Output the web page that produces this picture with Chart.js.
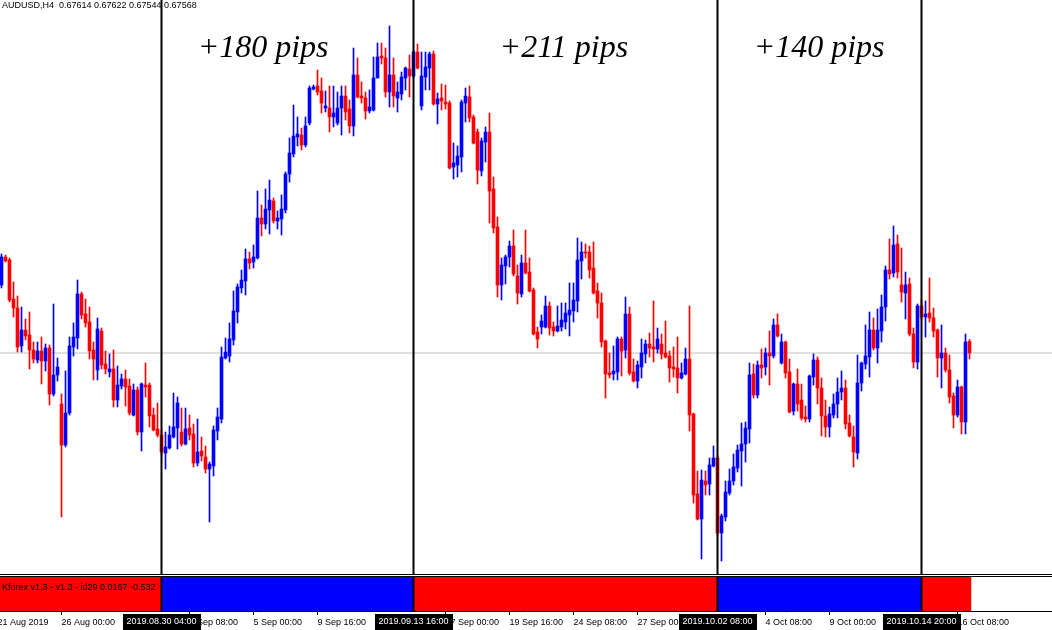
<!DOCTYPE html>
<html><head><meta charset="utf-8">
<script src="https://cdn.jsdelivr.net/npm/chart.js@4.4.1/dist/chart.umd.min.js"></script>
<style>
html,body{margin:0;padding:0;background:#fff;}
#wrap{position:relative;width:1052px;height:630px;overflow:hidden;background:#fff;}
#main{position:absolute;left:0;top:0;}
#ind{position:absolute;left:0;top:577px;}
.hl{position:absolute;left:0;width:1052px;height:1px;background:#000;}
</style></head><body>
<div id="wrap">
<canvas id="main" width="1052" height="574"></canvas>
<div class="hl" style="top:574px"></div>
<div class="hl" style="top:576px"></div>
<canvas id="ind" width="1052" height="53"></canvas>
</div>
<script>
const symbol = 'AUDUSD,H4';
const firstBar = -40; // bar index of first candle (0 = 2019.08.30 04:00)
const open = [
0.67840,0.67952,0.67940,0.67784,0.67748,0.67596,0.67660,0.67640,0.67580,0.67540,
0.67576,0.67536,0.67588,0.67404,0.67480,0.67364,0.67200,0.67328,0.67592,0.67628,
0.67804,0.67724,0.67692,0.67580,0.67500,0.67656,0.67524,0.67492,0.67504,0.67380,
0.67436,0.67464,0.67436,0.67320,0.67420,0.67252,0.67440,0.67440,0.67320,0.67264,
0.67240,0.67168,0.67188,0.67232,0.67268,0.67252,0.67204,0.67268,0.67244,0.67128,
0.67176,0.67152,0.67104,0.67116,0.67256,0.67304,0.67548,0.67556,0.67620,0.67732,
0.67828,0.67856,0.67944,0.67932,0.67948,0.68108,0.68084,0.68140,0.68176,0.68096,
0.68104,0.68140,0.68284,0.68364,0.68432,0.68440,0.68400,0.68488,0.68624,0.68636,
0.68616,0.68548,0.68548,0.68512,0.68488,0.68548,0.68596,0.68544,0.68476,0.68680,
0.68596,0.68588,0.68536,0.68540,0.68668,0.68756,0.68748,0.68612,0.68680,0.68588,
0.68604,0.68668,0.68704,0.68676,0.68772,0.68556,0.68672,0.68708,0.68764,0.68564,
0.68588,0.68572,0.68568,0.68312,0.68320,0.68352,0.68568,0.68592,0.68512,0.68452,
0.68296,0.68412,0.68452,0.68224,0.68072,0.67840,0.67916,0.67952,0.67996,0.67876,
0.67804,0.67928,0.67892,0.67820,0.67652,0.67672,0.67672,0.67756,0.67672,0.67656,
0.67672,0.67692,0.67720,0.67736,0.67776,0.67936,0.67972,0.67972,0.67908,0.67816,
0.67768,0.67616,0.67488,0.67484,0.67492,0.67624,0.67580,0.67724,0.67492,0.67456,
0.67512,0.67564,0.67604,0.67592,0.67584,0.67604,0.67568,0.67556,0.67512,0.67508,
0.67468,0.67484,0.67544,0.67324,0.67004,0.66904,0.67056,0.67044,0.67116,0.67148,
0.66848,0.66912,0.67008,0.67056,0.67108,0.67176,0.67204,0.67264,0.67484,0.67400,
0.67520,0.67512,0.67568,0.67556,0.67680,0.67528,0.67612,0.67492,0.67336,0.67444,
0.67380,0.67312,0.67304,0.67472,0.67540,0.67428,0.67316,0.67272,0.67320,0.67364,
0.67412,0.67428,0.67288,0.67232,0.67168,0.67448,0.67524,0.67552,0.67660,0.67588,
0.67656,0.67752,0.67900,0.67888,0.68004,0.67840,0.67808,0.67844,0.67644,0.67532,
0.67756,0.67712,0.67728,0.67708,0.67660,0.67548,0.67568,0.67500,0.67396,0.67320,
0.67432,0.67292,0.67614];
const high = [
0.67964,0.67960,0.67948,0.67852,0.67796,0.67752,0.67704,0.67732,0.67612,0.67612,
0.67632,0.67604,0.67600,0.67764,0.67548,0.67404,0.67496,0.67632,0.67688,0.67860,
0.67812,0.67784,0.67752,0.67612,0.67708,0.67668,0.67576,0.67564,0.67580,0.67516,
0.67484,0.67500,0.67464,0.67444,0.67432,0.67448,0.67528,0.67448,0.67348,0.67368,
0.67260,0.67252,0.67276,0.67408,0.67392,0.67348,0.67348,0.67320,0.67284,0.67304,
0.67232,0.67196,0.67132,0.67276,0.67348,0.67592,0.67628,0.67688,0.67816,0.67844,
0.67900,0.67984,0.67972,0.68000,0.68216,0.68160,0.68224,0.68260,0.68188,0.68136,
0.68200,0.68292,0.68428,0.68560,0.68512,0.68468,0.68512,0.68636,0.68640,0.68700,
0.68668,0.68616,0.68636,0.68636,0.68612,0.68636,0.68636,0.68580,0.68788,0.68748,
0.68652,0.68612,0.68620,0.68752,0.68808,0.68808,0.68788,0.68876,0.68748,0.68652,
0.68692,0.68712,0.68760,0.68780,0.68804,0.68772,0.68772,0.68772,0.68776,0.68608,
0.68644,0.68640,0.68576,0.68408,0.68396,0.68580,0.68628,0.68636,0.68520,0.68464,
0.68428,0.68472,0.68528,0.68272,0.68112,0.67948,0.67960,0.68016,0.68060,0.67920,
0.67960,0.68060,0.67948,0.67828,0.67672,0.67720,0.67796,0.67772,0.67692,0.67756,
0.67768,0.67768,0.67848,0.67848,0.68028,0.68012,0.68004,0.67996,0.68012,0.67848,
0.67808,0.67620,0.67568,0.67596,0.67632,0.67632,0.67792,0.67752,0.67544,0.67536,
0.67624,0.67620,0.67648,0.67776,0.67668,0.67644,0.67696,0.67576,0.67592,0.67632,
0.67528,0.67588,0.67756,0.67328,0.67096,0.67100,0.67096,0.67148,0.67196,0.67160,
0.66924,0.67056,0.67104,0.67164,0.67200,0.67288,0.67292,0.67528,0.67524,0.67536,
0.67584,0.67588,0.67656,0.67704,0.67724,0.67644,0.67616,0.67544,0.67448,0.67504,
0.67444,0.67356,0.67480,0.67564,0.67552,0.67468,0.67380,0.67352,0.67404,0.67468,
0.67496,0.67460,0.67320,0.67276,0.67560,0.67532,0.67680,0.67732,0.67708,0.67744,
0.67800,0.67916,0.68024,0.68076,0.68040,0.67988,0.67892,0.67868,0.67668,0.67764,
0.67780,0.67776,0.67868,0.67748,0.67664,0.67680,0.67588,0.67560,0.67408,0.67460,
0.67436,0.67644,0.67622];
const low = [
0.67828,0.67932,0.67772,0.67712,0.67572,0.67572,0.67620,0.67504,0.67528,0.67528,
0.67444,0.67496,0.67360,0.67396,0.67456,0.66912,0.67192,0.67320,0.67556,0.67584,
0.67704,0.67672,0.67544,0.67460,0.67460,0.67504,0.67484,0.67472,0.67352,0.67352,
0.67424,0.67356,0.67320,0.67316,0.67240,0.67176,0.67392,0.67272,0.67256,0.67232,
0.67160,0.67104,0.67184,0.67228,0.67184,0.67196,0.67200,0.67220,0.67112,0.67116,
0.67136,0.67088,0.66892,0.67076,0.67220,0.67288,0.67544,0.67532,0.67600,0.67688,
0.67808,0.67800,0.67904,0.67908,0.67944,0.68036,0.68064,0.68044,0.68088,0.68064,
0.68040,0.68128,0.68252,0.68352,0.68396,0.68380,0.68392,0.68480,0.68620,0.68600,
0.68528,0.68532,0.68452,0.68472,0.68480,0.68440,0.68500,0.68448,0.68436,0.68588,
0.68568,0.68504,0.68528,0.68536,0.68668,0.68724,0.68592,0.68552,0.68552,0.68532,
0.68580,0.68620,0.68592,0.68668,0.68704,0.68540,0.68620,0.68620,0.68560,0.68484,
0.68540,0.68544,0.68304,0.68264,0.68272,0.68292,0.68492,0.68492,0.68404,0.68244,
0.68276,0.68332,0.68088,0.68048,0.67792,0.67780,0.67844,0.67912,0.67876,0.67764,
0.67792,0.67884,0.67812,0.67640,0.67588,0.67644,0.67668,0.67640,0.67636,0.67652,
0.67656,0.67664,0.67636,0.67692,0.67732,0.67864,0.67948,0.67868,0.67804,0.67708,
0.67592,0.67388,0.67468,0.67460,0.67460,0.67476,0.67548,0.67480,0.67452,0.67428,
0.67468,0.67528,0.67552,0.67532,0.67568,0.67544,0.67548,0.67452,0.67472,0.67408,
0.67464,0.67480,0.67256,0.66968,0.66900,0.66744,0.67000,0.67000,0.67112,0.66840,
0.66736,0.66896,0.67000,0.67040,0.67092,0.67036,0.67132,0.67208,0.67388,0.67388,
0.67468,0.67480,0.67440,0.67548,0.67632,0.67524,0.67468,0.67328,0.67320,0.67336,
0.67300,0.67292,0.67292,0.67440,0.67364,0.67236,0.67232,0.67232,0.67308,0.67308,
0.67380,0.67264,0.67232,0.67112,0.67144,0.67416,0.67504,0.67472,0.67580,0.67528,
0.67612,0.67696,0.67864,0.67872,0.67868,0.67772,0.67704,0.67636,0.67508,0.67504,
0.67700,0.67632,0.67692,0.67632,0.67472,0.67428,0.67492,0.67368,0.67268,0.67312,
0.67244,0.67244,0.67544];
const close = [
0.67952,0.67936,0.67780,0.67748,0.67592,0.67660,0.67636,0.67580,0.67544,0.67576,
0.67536,0.67588,0.67404,0.67480,0.67512,0.67200,0.67328,0.67596,0.67632,0.67804,
0.67720,0.67688,0.67576,0.67544,0.67664,0.67520,0.67504,0.67504,0.67380,0.67440,
0.67464,0.67432,0.67328,0.67420,0.67252,0.67444,0.67432,0.67316,0.67260,0.67240,
0.67172,0.67192,0.67240,0.67272,0.67368,0.67204,0.67264,0.67240,0.67128,0.67172,
0.67156,0.67104,0.67124,0.67260,0.67312,0.67552,0.67572,0.67624,0.67736,0.67832,
0.67860,0.67944,0.67928,0.67952,0.68108,0.68084,0.68144,0.68180,0.68096,0.68108,
0.68144,0.68284,0.68368,0.68436,0.68444,0.68400,0.68476,0.68628,0.68632,0.68612,
0.68568,0.68556,0.68512,0.68528,0.68548,0.68596,0.68532,0.68476,0.68680,0.68592,
0.68588,0.68536,0.68552,0.68668,0.68752,0.68748,0.68612,0.68680,0.68596,0.68612,
0.68672,0.68708,0.68676,0.68772,0.68708,0.68676,0.68712,0.68764,0.68564,0.68584,
0.68576,0.68564,0.68308,0.68328,0.68356,0.68572,0.68596,0.68508,0.68408,0.68300,
0.68416,0.68452,0.68216,0.68068,0.67840,0.67920,0.67952,0.67996,0.67884,0.67808,
0.67928,0.67888,0.67816,0.67644,0.67624,0.67696,0.67756,0.67668,0.67656,0.67676,
0.67700,0.67728,0.67740,0.67780,0.67940,0.67972,0.67968,0.67900,0.67808,0.67768,
0.67612,0.67484,0.67480,0.67496,0.67624,0.67576,0.67724,0.67488,0.67456,0.67520,
0.67568,0.67604,0.67588,0.67584,0.67624,0.67564,0.67552,0.67508,0.67504,0.67468,
0.67488,0.67544,0.67320,0.67000,0.66904,0.67060,0.67040,0.67120,0.67148,0.66848,
0.66916,0.67012,0.67056,0.67112,0.67180,0.67204,0.67268,0.67480,0.67400,0.67520,
0.67508,0.67568,0.67556,0.67680,0.67636,0.67612,0.67488,0.67332,0.67444,0.67364,
0.67308,0.67304,0.67476,0.67540,0.67428,0.67316,0.67272,0.67324,0.67364,0.67412,
0.67428,0.67284,0.67236,0.67172,0.67448,0.67528,0.67556,0.67660,0.67588,0.67660,
0.67752,0.67900,0.67884,0.68000,0.67892,0.67812,0.67840,0.67644,0.67532,0.67756,
0.67712,0.67724,0.67708,0.67656,0.67548,0.67568,0.67500,0.67392,0.67320,0.67432,
0.67292,0.67612,0.67568];

// vertical marker lines (bar index) and their highlighted time labels
const markedBars = [0, 63, 139, 190];
const markedLabels = ['2019.08.30 04:00', '2019.09.13 16:00', '2019.10.02 08:00', '2019.10.14 20:00'];
// regular time-axis ticks (bar index) and labels
const tickBars = [-41, -25, 7, 23, 39, 71, 87, 103, 119, 151, 167, 199];
const tickLabels = ['21 Aug 2019', '26 Aug 00:00', '2 Sep 08:00', '5 Sep 00:00', '9 Sep 16:00', '17 Sep 00:00',
  '19 Sep 16:00', '24 Sep 08:00', '27 Sep 00:00', '4 Oct 08:00', '9 Oct 00:00', '16 Oct 08:00'];
// move annotations
const moveLabels = ['+180 pips', '+211 pips', '+140 pips'];
// indicator strip segments (bar index from/to) and signal (+1 blue, -1 red)
const segStart = [-40.5, 0, 63, 139, 190];
const segEnd = [0, 63, 139, 190, 202.5];
const segSignal = [-1, 1, -1, 1, -1];
const indicatorName = 'Kforex v1.3 - v1.3 - id29 0.0167 -0.532';

// ---------- build ----------
const UP = '#0000ff', DOWN = '#ff0000';
const X_MIN = -40.375, X_MAX = 222.625;
const Y_MIN = 0.66684, Y_MAX = 0.6898;
const N = open.length;
const xs = open.map((_, i) => firstBar + i);
const colors = open.map((o, i) => close[i] >= o ? UP : DOWN);
const wickData = xs.map((x, i) => ({x: x, y: [low[i], high[i]]}));
const bodyData = xs.map((x, i) => ({x: x, y: [open[i], close[i]]}));
const lastClose = close[N - 1];
const f5 = v => v.toFixed(5);
const headerText = symbol + '  ' + f5(open[N-1]) + ' ' + f5(high[N-1]) + ' ' + f5(low[N-1]) + ' ' + f5(close[N-1]);
const SMALL_FONT = '9px "Liberation Sans", Arial, sans-serif';

function vLines(y0, y1) {
  return markedBars.map(b => ({
    type: 'line', data: [{x: b, y: y0}, {x: b, y: y1}],
    borderColor: '#000', borderWidth: 2, pointRadius: 0, order: 0, fill: false
  }));
}

const mainPlugin = {
  id: 'mainText',
  beforeDatasetsDraw(chart) {
    const ctx = chart.ctx;
    ctx.save();
    ctx.font = SMALL_FONT;
    ctx.fillStyle = '#000';
    ctx.textBaseline = 'middle';
    ctx.textAlign = 'left';
    ctx.fillText(headerText, 2, 6);
    ctx.restore();
  },
  afterDatasetsDraw(chart) {
    const ctx = chart.ctx, sx = chart.scales.x, sy = chart.scales.y;
    const annoX = [25.4, 100.6, 164.4];
    const annoY = 0.68752;
    ctx.save();
    ctx.font = 'italic 32px "Liberation Serif", serif';
    ctx.fillStyle = '#000';
    ctx.textAlign = 'center';
    ctx.textBaseline = 'alphabetic';
    moveLabels.forEach((t, i) => ctx.fillText(t, sx.getPixelForValue(annoX[i]), sy.getPixelForValue(annoY)));
    ctx.restore();
  }
};

new Chart(document.getElementById('main'), {
  type: 'bar',
  data: {
    datasets: [
      {type: 'line', data: [{x: X_MIN, y: lastClose}, {x: X_MAX, y: lastClose}], borderColor: '#c0c0c0', borderWidth: 1, pointRadius: 0, order: 20, fill: false},
      {type: 'bar', data: wickData, backgroundColor: colors, barThickness: 1, grouped: false, borderWidth: 0, order: 5},
      {type: 'bar', data: bodyData, backgroundColor: colors, barThickness: 3, minBarLength: 1, grouped: false, borderWidth: 0, order: 4},
      ...vLines(Y_MIN, Y_MAX)
    ]
  },
  options: {
    responsive: false, animation: false, devicePixelRatio: 1,
    layout: {padding: 0, autoPadding: false},
    plugins: {legend: {display: false}, tooltip: {enabled: false}},
    scales: {
      x: {type: 'linear', min: X_MIN, max: X_MAX, offset: false, display: false, bounds: 'data'},
      y: {type: 'linear', min: Y_MIN, max: Y_MAX, display: false}
    }
  },
  plugins: [mainPlugin]
});

const indPlugin = {
  id: 'indText',
  afterDatasetDraw(chart, args) {
    if (args.index !== 0) return;
    const ctx = chart.ctx;
    ctx.save();
    ctx.font = SMALL_FONT;
    ctx.fillStyle = '#000';
    ctx.textBaseline = 'middle';
    ctx.textAlign = 'left';
    ctx.fillText(indicatorName, 2, 11);
    ctx.restore();
  },
  afterDraw(chart) {
    const ctx = chart.ctx, sx = chart.scales.x;
    ctx.save();
    ctx.font = SMALL_FONT;
    markedBars.forEach((b, i) => {
      const px = sx.getPixelForValue(b);
      const w = Math.round(ctx.measureText(markedLabels[i]).width + 8);
      ctx.fillStyle = '#000';
      ctx.fillRect(Math.round(px - w / 2), 37, w, 16);
      ctx.fillStyle = '#fff';
      ctx.textAlign = 'center';
      ctx.textBaseline = 'middle';
      ctx.fillText(markedLabels[i], px, 45);
    });
    ctx.restore();
  }
};

new Chart(document.getElementById('ind'), {
  type: 'line',
  data: {
    datasets: [
      ...segStart.map((s, i) => ({
        data: [{x: s, y: 1}, {x: segEnd[i], y: 1}],
        fill: 'origin', backgroundColor: segSignal[i] > 0 ? UP : DOWN,
        borderColor: 'rgba(0,0,0,0)', borderWidth: 0, pointRadius: 0, order: 10
      })),
      ...vLines(0, 1)
    ]
  },
  options: {
    responsive: false, animation: false, devicePixelRatio: 1,
    layout: {padding: 0, autoPadding: false},
    plugins: {legend: {display: false}, tooltip: {enabled: false}},
    scales: {
      x: {
        type: 'linear', min: X_MIN, max: X_MAX, offset: false, bounds: 'data', position: 'bottom',
        afterBuildTicks: s => { s.ticks = tickBars.map(v => ({value: v})); },
        afterFit: s => { s.height = 19; s.paddingLeft = 0; s.paddingRight = 0; },
        ticks: {
          autoSkip: false, maxRotation: 0, minRotation: 0, align: 'start', padding: 2,
          color: '#000', font: {family: '"Liberation Sans", Arial, sans-serif', size: 9},
          callback: (v, i) => tickLabels[i]
        },
        grid: {display: true, drawOnChartArea: false, drawTicks: true, tickLength: 4, color: '#000'},
        border: {display: true, color: '#000', width: 1}
      },
      y: {type: 'linear', min: 0, max: 1, display: false}
    }
  },
  plugins: [indPlugin]
});
</script>
</body></html>
